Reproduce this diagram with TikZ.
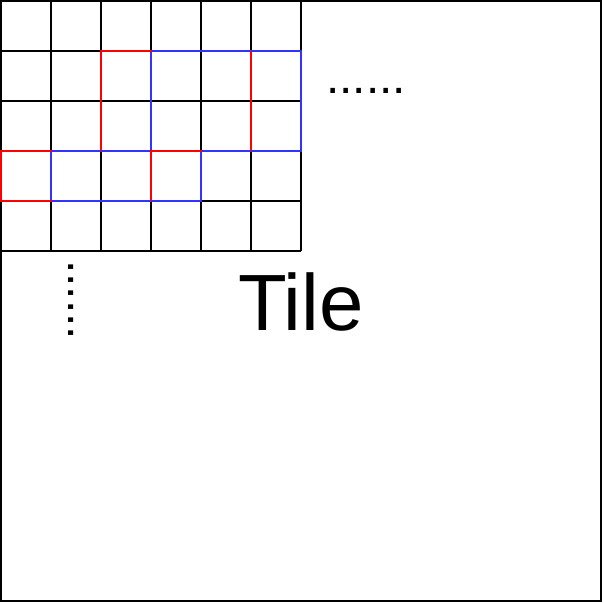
\documentclass[tikz,border=0pt]{standalone}
\usepackage{fontspec}
\setmainfont{Liberation Sans}
\usepackage{xcolor}
\definecolor{gridblue}{RGB}{51,51,255}
\definecolor{gridred}{RGB}{255,0,0}
\tikzset{
  every picture/.style={
    every path/.style={line width=1.13pt},
  }
}
\tikzset{redline/.style = {draw=gridred, line width=1.13pt}}
\tikzset{blueline/.style = {draw=gridblue, line width=1.13pt}}
\tikzset{dotstext/.style = {font=\fontsize{27.2}{30}\selectfont, inner sep=0}}

\begin{document}
\begin{tikzpicture}[yscale=-1]
      \useasboundingbox (-0.02,-0.02) rectangle (12.06,12.06);
      \draw (0,0) rectangle (12,12);
      \foreach \x in {0,...,6} {
        \draw (\x,0) -- (\x,5);
      }
      \foreach \y in {0,...,5} {
        \draw (0,\y) -- (6,\y);
      }
      \draw[blueline] (3,1) rectangle (6,3);
      \draw[blueline] (1,3) rectangle (4,4);
      \draw[redline] (3,1) -- (2,1) -- (2,3);
      \draw[redline] (5,1) -- (5,3);
      \draw[redline] (1,3) -- (0,3) -- (0,4) -- (1,4);
      \draw[redline] (4,3) -- (3,3) -- (3,4);
      \node[dotstext, anchor=base] (hdots) at (7.3,1.84) {......};
      \node[dotstext, anchor=base, rotate=-90] (vdots) at (1.34,5.98) {......};
      \node[font=\fontsize{45.4}{50}\selectfont, inner sep=0, anchor=base] (tile) at (6,6.58) {Tile};
    \end{tikzpicture}
\end{document}
